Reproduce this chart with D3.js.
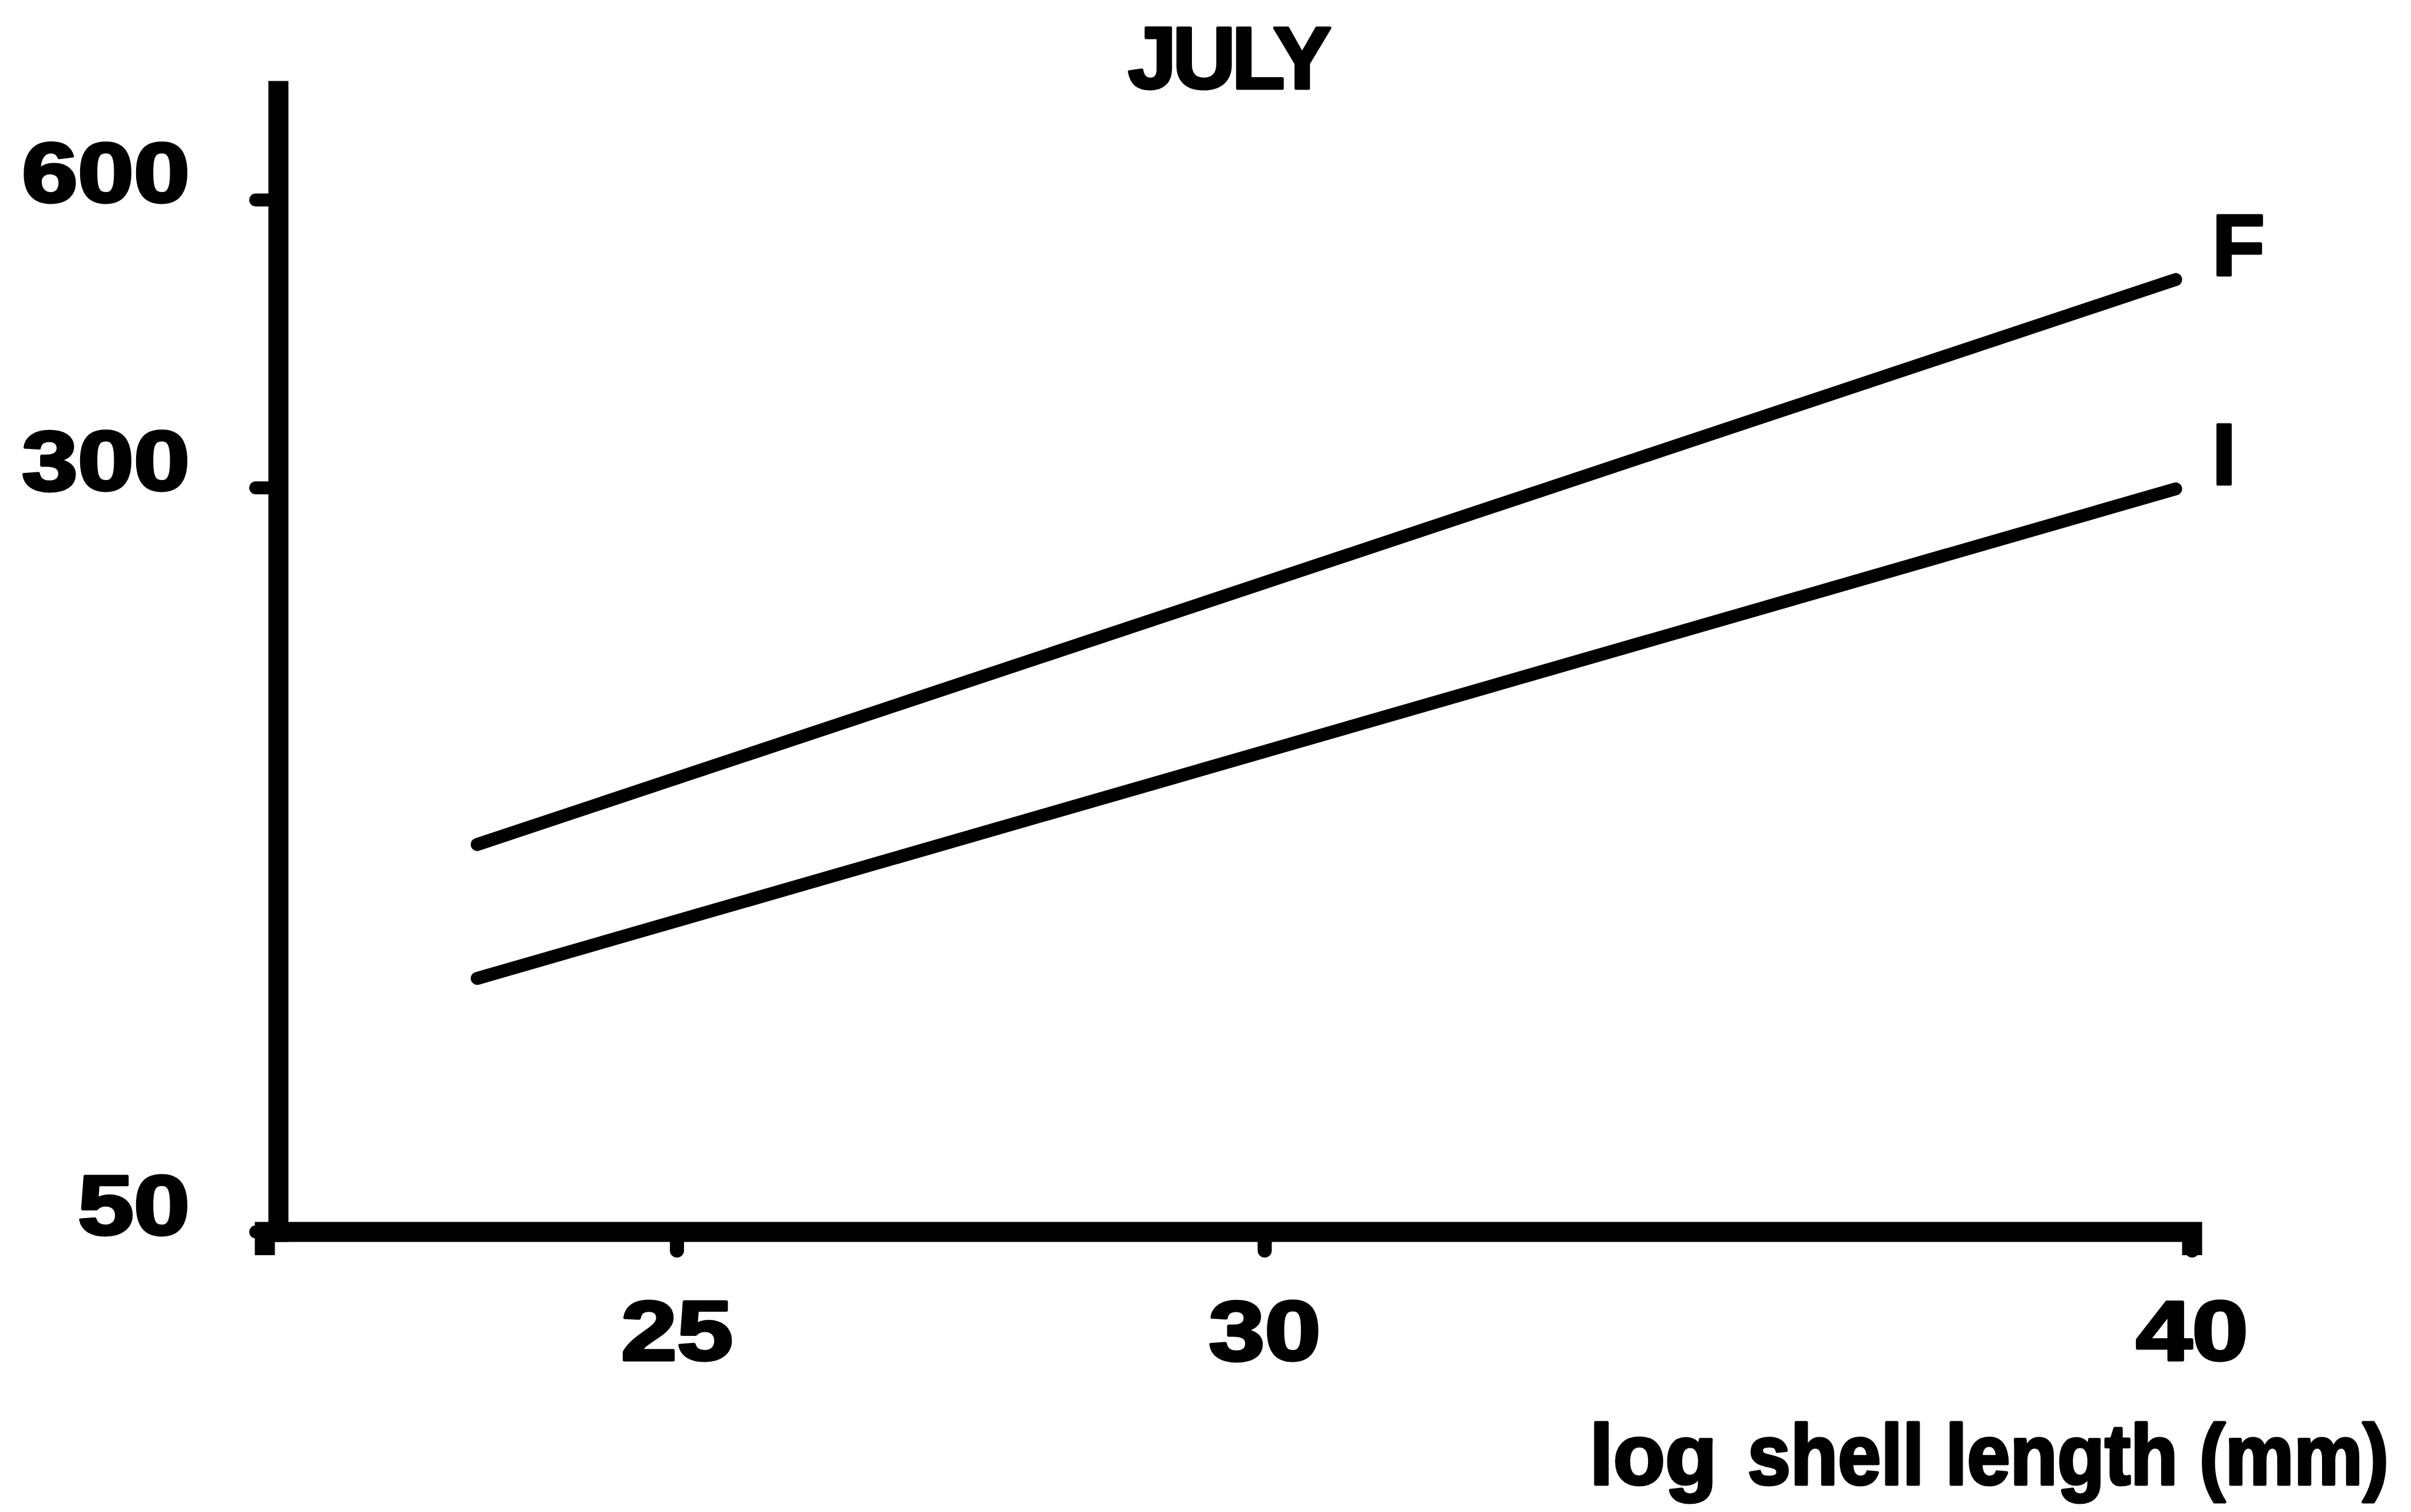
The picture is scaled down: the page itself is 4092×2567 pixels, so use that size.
<!DOCTYPE html>
<html>
<head>
<meta charset="utf-8">
<script src="https://cdn.jsdelivr.net/npm/d3@7"></script>
<style>
  html, body { margin: 0; padding: 0; background: #fff; }
  svg { display: block; }
  text {
    font-family: "Liberation Sans", Arial, sans-serif;
    font-weight: bold;
    fill: #000;
    stroke: #000;
    stroke-width: 5px;
    stroke-linejoin: round;
  }
</style>
</head>
<body>
<svg id="chart" width="4092" height="2567"></svg>
<script>
// Captions
const title = "JULY";
const xCaptionWord = "log";
const xCaptionRest = "shell length (mm)";

// Shell length axis (mm, log scale)
const xDomain = [22, 40];
const xTicks = [25, 30, 40];

// Vertical axis (log scale)
const yDomain = [50, 780];
const yTicks = [50, 300, 600];

// Fitted lines: value at the smallest and largest shell length
const seriesNames = ["F", "I"];
const lengths = [23.5, 39.8];
const valuesF = [127, 495];
const valuesI = [92, 299];

const series = [
  { name: seriesNames[0], values: valuesF },
  { name: seriesNames[1], values: valuesI }
];

const svg = d3.select("#chart");

const x = d3.scaleLog().domain(xDomain).range([449, 3720]);
const y = d3.scaleLog().domain(yDomain).range([2091, 154]);

const digitWidth = 95;

// ---- vertical axis ----
const yAxisG = svg.append("g")
  .attr("transform", "translate(472,0)")
  .call(d3.axisLeft(y)
    .tickValues(yTicks)
    .tickSize(38)
    .tickSizeOuter(0)
    .tickFormat(d3.format("d")));

yAxisG.select(".domain")
  .attr("stroke", "#000")
  .attr("stroke-width", 34)
  .attr("stroke-linecap", "square");
yAxisG.selectAll(".tick line")
  .attr("stroke", "#000")
  .attr("stroke-width", 22)
  .attr("stroke-linecap", "round");
yAxisG.selectAll(".tick text")
  .attr("font-size", 143)
  .attr("font-family", null)
  .attr("text-anchor", "end")
  .attr("x", -150)
  .attr("dy", null)
  .attr("y", 4)
  .attr("fill", "#000")
  .attr("textLength", d => String(d).length * digitWidth)
  .attr("lengthAdjust", "spacingAndGlyphs");

// ---- horizontal axis ----
const xAxisG = svg.append("g")
  .attr("transform", "translate(0,2091)")
  .call(d3.axisBottom(x)
    .tickValues(xTicks)
    .tickSize(32)
    .tickSizeOuter(40)
    .tickFormat(d3.format("d")));

xAxisG.select(".domain")
  .attr("stroke", "#000")
  .attr("stroke-width", 34)
  .attr("stroke-linejoin", "miter");
xAxisG.selectAll(".tick line")
  .attr("stroke", "#000")
  .attr("stroke-width", 24)
  .attr("stroke-linecap", "round");
xAxisG.selectAll(".tick text")
  .attr("font-size", 143)
  .attr("font-family", null)
  .attr("text-anchor", "middle")
  .attr("dy", null)
  .attr("y", 218)
  .attr("fill", "#000")
  .attr("textLength", d => String(d).length * digitWidth)
  .attr("lengthAdjust", "spacingAndGlyphs");

// ---- fitted lines ----
const line = d3.line()
  .x((d, i) => x(lengths[i]))
  .y(d => y(d));

svg.append("g")
  .selectAll("path")
  .data(series)
  .join("path")
  .attr("d", d => line(d.values))
  .attr("fill", "none")
  .attr("stroke", "#000")
  .attr("stroke-width", 22)
  .attr("stroke-linecap", "round");

svg.append("g")
  .selectAll("text")
  .data(series)
  .join("text")
  .attr("x", x(lengths[1]) + 62)
  .attr("y", d => y(d.values[1]) - 8)
  .attr("font-size", 146)
  .text(d => d.name);

// ---- title ----
svg.append("text")
  .attr("x", 2087)
  .attr("y", 150)
  .attr("text-anchor", "middle")
  .attr("font-size", 148)
  .attr("textLength", 345)
  .attr("lengthAdjust", "spacing")
  .text(title);

// ---- horizontal axis caption ----
svg.append("text")
  .attr("x", 2698)
  .attr("y", 2520)
  .attr("font-size", 144)
  .text(xCaptionWord);

// the rest of the caption is set a little narrower so it ends at the right margin
const rest = svg.append("text")
  .attr("font-size", 144)
  .text(xCaptionRest);
const restWidth = 1088;
const restScale = restWidth / rest.node().getComputedTextLength();
rest.attr("transform", `translate(2966,2520) scale(${restScale},1)`);
</script>
</body>
</html>
